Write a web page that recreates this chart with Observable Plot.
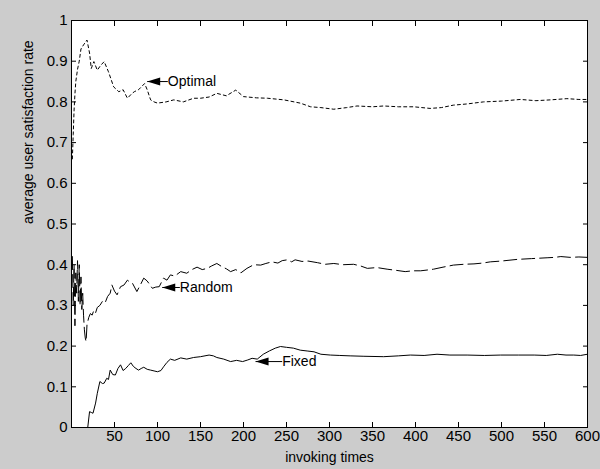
<!DOCTYPE html>
<html><head><meta charset="utf-8">
<script src="https://cdn.jsdelivr.net/npm/d3@7"></script>
<script src="https://cdn.jsdelivr.net/npm/@observablehq/plot@0.6"></script>
<style>html,body{margin:0;padding:0;background:#cccccc;}</style>
</head><body><div id="chart"></div>
<script>
// ---- data ----
const optX = [1,2,3,4,5,7,9,11,14,18,21,23,26,30,34,38,43,49,55,60,65,70,73,78,85,88,92,96,100,110,119,130,142,150,160,169,180,191,200,215,228,247,266,278,290,305,320,332,350,363,380,398,417,430,444,460,479,500,522,540,557,576,590,600];
const optY = [0.66,0.72,0.78,0.82,0.85,0.88,0.90,0.93,0.94,0.952,0.92,0.882,0.899,0.878,0.89,0.899,0.874,0.837,0.825,0.83,0.809,0.82,0.825,0.83,0.845,0.83,0.805,0.80,0.797,0.80,0.805,0.80,0.809,0.809,0.812,0.821,0.815,0.829,0.813,0.81,0.809,0.805,0.797,0.788,0.786,0.782,0.786,0.79,0.788,0.79,0.788,0.788,0.784,0.786,0.792,0.795,0.80,0.802,0.806,0.803,0.805,0.808,0.806,0.806];

const rndX = [1,2,3,4,5,6,7,8,9,10,11,12,13,14,15,16,17,18,20,22,24,26,28,30,33,36,39,42,45,47,50,53,57,61,65,68,71,76,80,84,88,94,98,102,107,111,115,120,127,134,140,146,152,158,163,169,175,180,185,191,197,204,212,220,226,233,240,245,251,256,260,268,275,286,295,305,316,328,336,344,355,367,378,388,397,406,414,421,432,444,456,468,478,487,500,518,535,553,562,569,580,590,600];
const rndY = [0.42,0.30,0.40,0.25,0.38,0.33,0.41,0.31,0.40,0.30,0.37,0.29,0.33,0.276,0.24,0.22,0.211,0.252,0.27,0.28,0.276,0.288,0.282,0.295,0.30,0.31,0.306,0.322,0.33,0.35,0.335,0.326,0.346,0.35,0.362,0.357,0.354,0.334,0.35,0.367,0.36,0.342,0.345,0.346,0.367,0.362,0.375,0.372,0.383,0.379,0.388,0.394,0.388,0.391,0.397,0.403,0.395,0.39,0.383,0.388,0.38,0.391,0.40,0.399,0.403,0.407,0.404,0.41,0.412,0.407,0.412,0.408,0.409,0.405,0.401,0.403,0.40,0.401,0.397,0.391,0.393,0.389,0.386,0.383,0.385,0.385,0.387,0.389,0.394,0.399,0.401,0.402,0.404,0.407,0.409,0.413,0.415,0.417,0.418,0.42,0.418,0.419,0.418];

const fixX = [19,21,23,25,28,30,33,36,38,41,43,45,48,51,54,57,60,63,66,69,72,75,78,81,84,88,92,96,100,104,107,111,115,120,127,134,142,150,160,165,169,177,185,192,199,205,210,216,223,230,237,243,250,258,266,274,282,290,301,312,324,340,363,380,394,410,425,440,460,480,499,520,538,552,565,575,584,592,600];
const fixY = [0.002,0.039,0.037,0.035,0.06,0.084,0.113,0.108,0.109,0.121,0.118,0.141,0.13,0.129,0.145,0.154,0.14,0.145,0.152,0.159,0.15,0.145,0.141,0.145,0.148,0.143,0.141,0.139,0.137,0.14,0.149,0.16,0.168,0.165,0.171,0.168,0.172,0.174,0.178,0.176,0.172,0.168,0.162,0.165,0.162,0.166,0.17,0.168,0.18,0.188,0.195,0.199,0.197,0.195,0.19,0.188,0.186,0.18,0.178,0.177,0.176,0.175,0.174,0.176,0.178,0.177,0.18,0.178,0.178,0.177,0.178,0.178,0.178,0.177,0.18,0.178,0.178,0.177,0.18];

const xTicks = [50,100,150,200,250,300,350,400,450,500,550,600];
const xTickLabels = ["50","100","150","200","250","300","350","400","450","500","550","600"];
const yTicks = [0,0.1,0.2,0.3,0.4,0.5,0.6,0.7,0.8,0.9,1];
const yTickLabels = ["0","0.1","0.2","0.3","0.4","0.5","0.6","0.7","0.8","0.9","1"];

const annLabels = ["Optimal","Random","Fixed"];
const annTipX = [88, 105.5, 214];
const annTipY = [0.85, 0.344, 0.162];
const annTextX = [112, 126, 245];

const xLabel = "invoking times";
const yLabel = "average user satisfaction rate";

// ---- build ----
const rows = (xs, ys) => xs.map((x, i) => ({x, y: ys[i]}));
const optimal = rows(optX, optY), random = rows(rndX, rndY), fixed = rows(fixX, fixY);
const ann = annLabels.map((t, i) => ({t, tx: annTipX[i], ty: annTipY[i], lx: annTextX[i]}));
const leftTri = {draw(ctx) { ctx.moveTo(0, 0); ctx.lineTo(13, -4); ctx.lineTo(13, 4); ctx.closePath(); }};
const FF = "'Liberation Sans', Arial, Helvetica, sans-serif";

const chart = Plot.plot({
  width: 600, height: 469,
  marginLeft: 71, marginRight: 13, marginTop: 20, marginBottom: 42,
  style: {background: "#cccccc", fontFamily: FF, fontSize: "14px", color: "black"},
  x: {domain: [0, 600], axis: null},
  y: {domain: [0, 1], axis: null},
  marks: [
    Plot.frame({fill: "white"}),
    Plot.line(optimal, {x: "x", y: "y", stroke: "black", strokeWidth: 1, strokeDasharray: "3,3"}),
    Plot.line(random, {x: "x", y: "y", stroke: "black", strokeWidth: 1, strokeDasharray: "13,5"}),
    Plot.line(fixed, {x: "x", y: "y", stroke: "black", strokeWidth: 1}),
    Plot.frame({stroke: "black"}),
    Plot.axisX(xTicks, {anchor: "bottom", tickSize: -5, tickFormat: () => "", label: null}),
    Plot.axisX(xTicks, {anchor: "top", tickSize: -5, tickFormat: () => "", label: null}),
    Plot.axisY(yTicks, {anchor: "left", tickSize: -5, tickFormat: () => "", label: null}),
    Plot.axisY(yTicks, {anchor: "right", tickSize: -5, tickFormat: () => "", label: null}),
    Plot.axisX(xTicks, {anchor: "bottom", tickSize: 0, tickPadding: 3, tickFormat: (d, i) => xTickLabels[i], label: null, fontSize: 15}),
    Plot.axisY(yTicks, {anchor: "left", tickSize: 0, tickPadding: 4, tickFormat: (d, i) => yTickLabels[i], label: null, fontSize: 15}),
    Plot.text([xLabel], {frameAnchor: "bottom", dy: 34, fontSize: 14, text: d => d}),
    Plot.text([yLabel], {frameAnchor: "left", dx: -43, rotate: -90, fontSize: 14, text: d => d}),
    Plot.link(ann, {x1: "tx", x2: "lx", y1: "ty", y2: "ty", stroke: "black", strokeWidth: 1}),
    Plot.dot(ann, {x: "tx", y: "ty", symbol: leftTri, fill: "black", stroke: null}),
    Plot.text(ann, {x: "lx", y: "ty", text: "t", textAnchor: "start", fontSize: 14})
  ]
});
document.getElementById("chart").appendChild(chart);
</script>
</body></html>
